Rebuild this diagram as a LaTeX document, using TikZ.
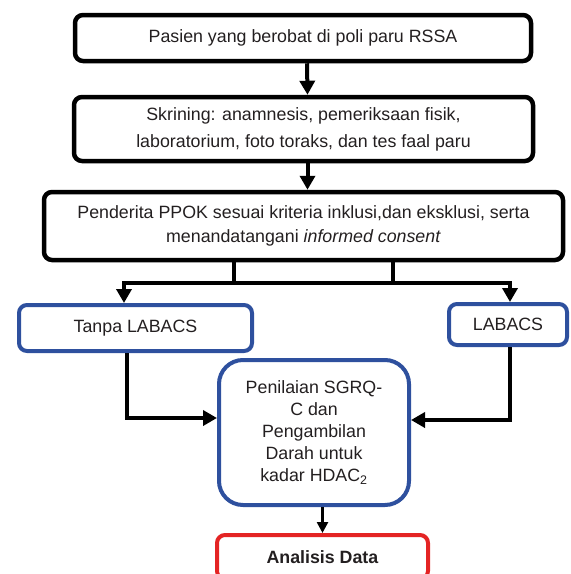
\documentclass[tikz,border=0pt]{standalone}
\usepackage{fontspec}
\setmainfont{Liberation Sans}
\usetikzlibrary{arrows.meta}
\definecolor{ink}{RGB}{35,31,32}
\definecolor{boxblue}{RGB}{46,80,158}
\definecolor{boxred}{RGB}{228,36,36}

\begin{document}
\begin{tikzpicture}[
    x=1pt, y=-1pt,
    font=\fontsize{17.8}{24}\selectfont,
    tahap/.style={
        rectangle,
        rounded corners=8pt,
        draw=black,
        line width=4.5pt,
        align=center,
        inner sep=0pt,
        text=ink
    },
    grup/.style={
        tahap,
        draw=boxblue,
        line width=4pt
    },
    hasil/.style={
        tahap,
        draw=boxred,
        line width=4pt
    },
    garis/.style={line width=4pt},
    alur/.style={
        line width=4pt,
        -{Triangle[length=14pt,width=15pt]}
    },
    alurkecil/.style={
        line width=2.5pt,
        -{Triangle[length=11pt,width=11pt]}
    },
    cabang/.style={
        line width=4pt,
        {Triangle[length=14pt,width=15pt]}-{Triangle[length=14pt,width=15pt]}
    }
]

\useasboundingbox (0,0) rectangle (571,574);

\node[tahap, minimum width=456pt, minimum height=46pt] (pasien) at (303,38)
    {Pasien yang berobat di poli paru RSSA};

\node[tahap, minimum width=459pt, minimum height=64pt,
      font=\fontsize{17.8}{27}\selectfont] (skrining) at (303.5,129) {
    Skrining: anamnesis, pemeriksaan fisik,\\
    laboratorium, foto toraks, dan tes faal paru
};

\node[tahap, minimum width=519pt, minimum height=68pt] (penderita) at (303.5,226) {
    Penderita PPOK sesuai kriteria inklusi,dan eksklusi, serta\\
    menandatangani \textit{informed consent}
};

\node[grup, minimum width=233pt, minimum height=46pt] (tanpa) at (135.5,328)
    {Tanpa LABACS};

\node[grup, minimum width=118pt, minimum height=41pt] (labacs) at (508,324.5)
    {LABACS};

\node[grup, rounded corners=24pt, minimum width=190pt, minimum height=145pt,
      font=\fontsize{17.8}{22}\selectfont] (nilai) at (314,432.5) {
    Penilaian SGRQ-\\
    C dan\\
    Pengambilan\\
    Darah untuk\\
    kadar HDAC\textsubscript{2}
};

\node[hasil, minimum width=211pt, minimum height=44pt] (analisis) at (322.5,557)
    {\textbf{Analisis Data}};

\coordinate (barL) at (124,283);
\coordinate (barR) at (510,283);
\coordinate (cabangL) at (234,283);
\coordinate (cabangR) at (393,283);

\draw[alur] ([xshift=4pt]pasien.south) -- ([xshift=4pt]skrining.north);
\draw[alur] ([xshift=4pt]skrining.south) -- ([xshift=4pt]penderita.north);

\draw[garis] (cabangL |- penderita.south) -- (cabangL);
\draw[garis] (cabangR |- penderita.south) -- (cabangR);
\draw[cabang] (barL |- tanpa.north) |- (barR) -- (barR |- labacs.north);

\draw[alur] ([xshift=-8.5pt]tanpa.south) |- ([yshift=14.5pt]nilai.west);
\draw[alur] ([xshift=2pt]labacs.south) |- ([yshift=12.5pt]nilai.east);

\draw[alurkecil] (analisis.north |- nilai.south) -- (analisis.north);

\end{tikzpicture}
\end{document}
